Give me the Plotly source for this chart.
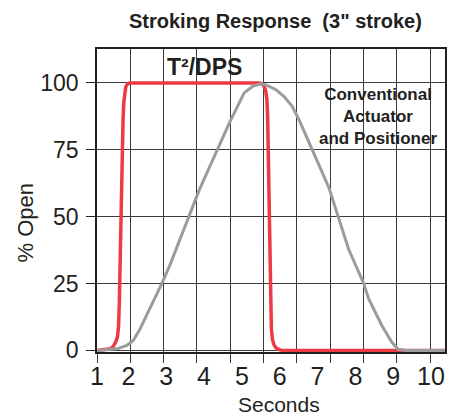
import plotly.graph_objects as go

dps_t = [1.17, 1.40, 1.52, 1.60, 1.66, 1.71, 1.74, 1.76, 1.78, 1.80, 1.83, 1.86, 1.88, 1.90, 1.93, 1.97, 2.03, 2.12,
         5.47, 5.54, 5.59, 5.63, 5.66, 5.68, 5.70, 5.72, 5.74, 5.76, 5.78, 5.81, 5.85, 5.90, 5.98, 6.08, 10.37]
dps_y = [0, 0.2, 0.6, 1.5, 3, 5, 9, 18, 35, 55, 75, 87, 93, 96.5, 98.5, 99.5, 100, 100,
         100, 99.6, 98.8, 97, 94, 88, 70, 50, 30, 15, 8, 4, 2, 1, 0.3, 0, 0]

conv_t = [1.17, 1.45, 1.70, 1.96, 2.13, 2.31, 2.57, 2.88, 3.10, 3.88, 4.67, 4.85, 5.06, 5.28, 5.50, 5.63,
          5.90, 6.11, 6.33, 6.51, 7.30, 7.82, 8.22, 8.35, 8.70, 8.96, 9.13, 9.35, 10.37]
conv_y = [0, 0.2, 0.6, 1.9, 3.7, 8.1, 15.5, 24.9, 32, 60.2, 85.1, 90.1, 96.3, 98.7, 99.7, 99.4,
          97.5, 95, 91.3, 86.3, 60.9, 37.9, 25.1, 19.3, 9.3, 3.1, 0.4, 0, 0]

x_tick_text = ["1", "2", "3", "4", "5", "6", "7", "8", "9", "10"]
y_ticks = [0, 25, 50, 75, 100]

title_text = "Stroking Response  (3\" stroke)"
dps_label = "T²/DPS"
conv_label = "Conventional<br>Actuator<br>and Positioner"

# ---- layout constants ----
X0, X1 = 1.17, 10.37
GRID_DX = 0.8808
x_tick_vals = [X0] + list(range(2, 11))
grid_vals = [X0 + k * GRID_DX for k in range(11)]
INK = "#231f20"
RED = "#ee3a43"
GRAY = "#9c9c9e"
GRID = "#3a3a3a"
FONT = "Liberation Sans, Arial, Helvetica, sans-serif"

fig = go.Figure()
fig.add_trace(go.Scatter(x=dps_t, y=dps_y, mode="lines",
                         line=dict(color=RED, width=3.5), hoverinfo="skip"))
fig.add_trace(go.Scatter(x=conv_t, y=conv_y, mode="lines",
                         line=dict(color=GRAY, width=3), hoverinfo="skip"))

L, R, T, B = 97, 5, 49, 65
W, H = 452, 417
pw, ph = W - L - R, H - T - B


def px(x):
    return (x - L) / pw


def py(y):
    return (H - B - y) / ph


def label(text, x, y, size, bold=False, angle=0):
    return dict(text=text, x=px(x), y=py(y), xref="paper", yref="paper",
                xanchor="center", yanchor="middle", showarrow=False, align="center",
                textangle=angle,
                font=dict(size=size, color=INK, family=FONT, weight="bold" if bold else "normal"))


fig.update_layout(
    width=W, height=H,
    margin=dict(l=L, r=R, t=T, b=B),
    paper_bgcolor="white", plot_bgcolor="white",
    showlegend=False,
    font=dict(family=FONT, color=INK),
    xaxis=dict(
        range=[X0, X1],
        tickmode="array", tickvals=x_tick_vals, ticktext=x_tick_text,
        ticks="", showgrid=False, zeroline=False,
        tickfont=dict(size=25, color=INK),
        ticklabelstandoff=1,
        showline=True, mirror=True, linecolor=INK, linewidth=1.5,
        minor=dict(tickmode="array", tickvals=grid_vals, showgrid=True, gridcolor=GRID, gridwidth=1,
                   ticks="outside", ticklen=9, tickcolor=GRID, tickwidth=1),
    ),
    yaxis=dict(
        range=[-0.6, 112.7],
        tickvals=y_ticks,
        ticks="outside", ticklen=9, tickcolor=INK, tickwidth=1,
        showgrid=True, gridcolor=GRID, gridwidth=1, zeroline=False,
        tickfont=dict(size=23, color=INK),
        ticklabelstandoff=3,
        showline=True, mirror=True, linecolor=INK, linewidth=1.5,
    ),
    annotations=[
        label(title_text, 277, 21, 20, bold=True),
        label(dps_label, 205.5, 67, 23, bold=True),
        label(conv_label, 380, 116, 17, bold=True),
        label("Seconds", 280, 404, 21),
        label("% Open", 25, 222, 22, angle=-90),
    ],
)

fig.write_html("out.html", config={"displayModeBar": False},
               post_script="document.body.style.margin='0';document.body.style.padding='0';")
